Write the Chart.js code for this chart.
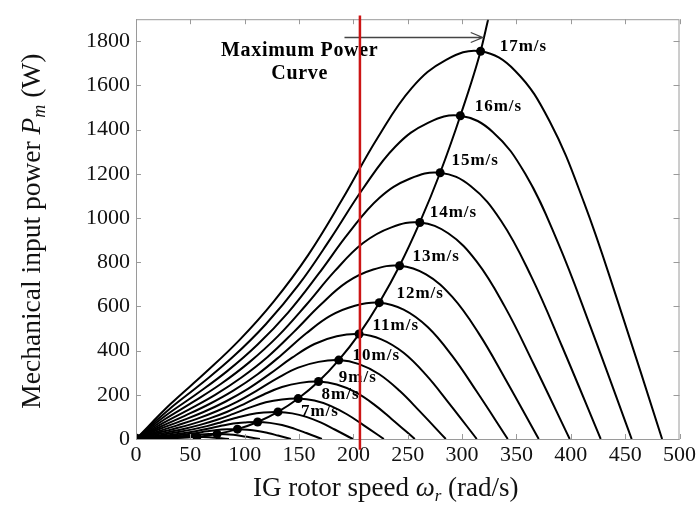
<!DOCTYPE html>
<html>
<head>
<meta charset="utf-8">
<script src="https://cdn.jsdelivr.net/npm/chart.js@4"></script>
<style>
  html, body { margin: 0; padding: 0; background: #fff; }
  #wrap { width: 699px; height: 507px; position: relative; }
</style>
</head>
<body>
<div id="wrap"><canvas id="powerChart"></canvas></div>
<script>
// rotor speed (rad/s) and mechanical power (W)
const omega3 = [0, 5.6, 11.2, 16.8, 22.4, 28, 33.6, 39.2, 44.8, 50.4, 56, 61.6, 67.2, 72.8, 78.4, 85.5]
const power3 = [0, 0.9, 1.6, 2.4, 3.4, 4.6, 6, 7.4, 8.7, 9.4, 9.6, 9.1, 7.9, 5.9, 3.4, 0]
const omega4 = [0, 7.5, 14.9, 22.4, 29.8, 37.3, 44.8, 52.2, 59.7, 67.1, 74.6, 82.1, 89.5, 97, 104.4, 114]
const power4 = [0, 2.1, 3.9, 5.8, 8.1, 10.8, 14.1, 17.7, 20.6, 22.3, 22.8, 21.7, 18.7, 13.9, 8, 0]
const omega5 = [0, 9.3, 18.7, 28, 37.3, 46.7, 56, 65.3, 74.6, 84, 93.3, 102.6, 112, 121.3, 130.6, 142.5]
const power5 = [0, 4, 7.6, 11.4, 15.8, 21.2, 27.7, 34.6, 40.4, 43.6, 44.6, 42.4, 36.6, 27.2, 15.6, 0]
const omega6 = [0, 11.2, 22.4, 33.6, 44.8, 56, 67.1, 78.3, 89.5, 100.7, 111.9, 123.1, 134.3, 145.5, 156.7, 171]
const power6 = [0, 6.9, 13.1, 19.6, 27.3, 36.6, 47.7, 59.7, 70, 75, 77, 73, 63, 47, 27, 0]
const omega7 = [0, 13.1, 26.1, 39.2, 52.2, 65.3, 78.4, 91.4, 104.5, 117.5, 130.6, 143.7, 156.7, 169.8, 182.8, 199.5]
const power7 = [0, 11, 20.8, 31.2, 43.5, 58.2, 76, 94.9, 111, 120, 122.5, 116, 100, 75, 43, 0]
const omega8 = [0, 14.9, 29.8, 44.8, 59.7, 74.6, 89.5, 104.4, 119.4, 134.3, 149.2, 164.1, 179, 194, 208.9, 228]
const power8 = [0, 16.5, 31.1, 46.7, 65, 86.9, 113.5, 141.8, 166, 179, 183, 174, 150, 112, 64, 0]
const omega9 = [0, 16.8, 33.6, 50.4, 67.2, 84, 100.7, 117.5, 134.3, 151.1, 167.9, 184.7, 201.5, 218.3, 235.1, 256.5]
const power9 = [0, 23.4, 44.2, 66.3, 92.3, 123.5, 161.2, 201.5, 235, 254, 260, 247, 213, 159, 91, 0]
const omega10 = [0, 18.7, 37.3, 56, 74.6, 93.3, 111.9, 130.6, 149.2, 167.9, 186.5, 205.2, 223.8, 242.5, 261.1, 285]
const power10 = [0, 32.1, 60.7, 91, 126.7, 169.6, 221.3, 276.7, 323, 349, 357, 339, 293, 218, 125, 0]
const omega11 = [0, 20.5, 41, 61.6, 82.1, 102.6, 123.1, 143.6, 164.2, 184.7, 205.2, 225.7, 246.2, 266.8, 287.3, 313.5]
const power11 = [0, 42.8, 80.8, 121.1, 168.6, 225.6, 294.5, 368.1, 430, 465, 475, 451, 390, 290, 166, 0]
const omega12 = [0, 22.4, 44.8, 67.1, 89.5, 111.9, 134.3, 156.7, 179, 201.4, 223.8, 246.2, 268.6, 290.9, 313.3, 342]
const power12 = [0, 55.5, 104.9, 157.3, 219, 293.1, 382.5, 478.2, 558, 603, 617, 586, 506, 376, 216, 0]
const omega13 = [0, 24.3, 48.5, 72.8, 97, 121.3, 145.5, 169.8, 194, 218.3, 242.5, 266.8, 291, 315.3, 339.5, 370.5]
const power13 = [0, 70.6, 133.3, 199.9, 278.3, 372.4, 486.1, 607.6, 710, 767, 784, 745, 643, 478, 274, 0]
const omega14 = [0, 26.1, 52.2, 78.3, 104.4, 130.6, 156.7, 182.8, 208.9, 235, 261.1, 287.2, 313.3, 339.4, 365.5, 399]
const power14 = [0, 88.2, 166.6, 249.9, 347.9, 465.5, 607.6, 759.5, 887, 958, 980, 931, 804, 598, 343, 0]
const omega15 = [0, 28, 56, 83.9, 111.9, 139.9, 167.9, 195.9, 223.8, 251.8, 279.8, 307.8, 335.8, 363.7, 391.7, 427.5]
const power15 = [0, 108.5, 204.9, 307.3, 427.8, 572.4, 747.1, 933.9, 1091, 1178, 1205, 1145, 988, 735, 422, 0]
const omega16 = [0, 29.8, 59.7, 89.5, 119.4, 149.2, 179, 208.9, 238.7, 268.6, 298.4, 328.2, 358.1, 387.9, 417.8, 456]
const power16 = [0, 131.7, 248.7, 373, 519.4, 694.9, 907, 1133.8, 1324, 1431, 1463, 1390, 1200, 892, 512, 0]
const omega17 = [0, 31.7, 63.4, 95.1, 126.8, 158.5, 190.2, 221.9, 253.6, 285.3, 317, 348.7, 380.4, 412.1, 443.8, 484]
const power17 = [0, 158, 298.4, 447.5, 623, 833.6, 1088, 1360, 1588, 1716, 1755, 1667, 1439, 1071, 614, 0]

// maximum power points (one per wind speed), last entry is where the curve leaves the plot
const mppOmega = [0, 56, 74.6, 93.3, 111.9, 130.6, 149.2, 167.9, 186.5, 205.2, 223.8, 242.5, 261.1, 279.8, 298.4, 317, 324]
const mppPower = [0, 9.6, 22.8, 44.6, 77, 122.5, 183, 260, 357, 475, 617, 784, 980, 1205, 1463, 1755, 1900]

// wind speed labels
const labelText = ['7m/s', '8m/s', '9m/s', '10m/s', '11m/s', '12m/s', '13m/s', '14m/s', '15m/s', '16m/s', '17m/s']
const labelOmega = [151.7, 170.7, 186.6, 199.2, 217.6, 239.6, 254.3, 270.2, 290.2, 311.6, 334.6]
const labelPower = [125, 201.5, 278, 376, 515, 658, 824, 1025.5, 1258, 1505, 1778]

// vertical marker and the annotation arrow
const markerOmega = 206
const markerSpan = [-49, 1917]
const arrowOmega = [191.8, 319]
const arrowPower = 1818
const noteOmega = 150.6
const notePower = [1758, 1655]

const curves = [
  [omega3, power3], [omega4, power4], [omega5, power5], [omega6, power6], [omega7, power7],
  [omega8, power8], [omega9, power9], [omega10, power10], [omega11, power11], [omega12, power12],
  [omega13, power13], [omega14, power14], [omega15, power15], [omega16, power16], [omega17, power17]
]

const toPoints = (xs, ys) => xs.map((x, i) => ({ x: x, y: ys[i] }))

const datasets = curves.map(([w, p]) => ({
  data: toPoints(w, p),
  borderColor: '#000',
  borderWidth: 2,
  pointRadius: 0,
  tension: 0.4
}))

datasets.push({
  data: toPoints(mppOmega, mppPower),
  borderColor: '#000',
  backgroundColor: '#000',
  borderWidth: 2,
  pointRadius: c => (c.dataIndex === mppOmega.length - 1 ? 0 : c.dataIndex === 0 ? 5.5 : 4.5),
  pointBorderWidth: 0,
  cubicInterpolationMode: 'monotone'
})

const serif = '"Liberation Serif", "Times New Roman", serif'

function drawRuns(ctx, runs, x, y) {
  // runs: [text, font, dy]
  let total = 0
  runs.forEach(r => { ctx.font = r[1]; total += ctx.measureText(r[0]).width })
  let cx = x - total / 2
  runs.forEach(r => {
    ctx.font = r[1]
    ctx.fillText(r[0], cx, y + (r[2] || 0))
    cx += ctx.measureText(r[0]).width
  })
}

const decor = {
  id: 'decor',
  afterDraw(chart) {
    const ctx = chart.ctx
    const xs = chart.scales.x
    const ys = chart.scales.y
    const a = chart.chartArea
    ctx.save()

    // frame and inward ticks
    ctx.strokeStyle = '#9a9a9a'
    ctx.lineWidth = 1
    ctx.strokeRect(a.left + 0.5, a.top + 0.5, a.right - a.left - 1, a.bottom - a.top)
    ctx.beginPath()
    xs.ticks.forEach(t => {
      const px = Math.round(xs.getPixelForValue(t.value)) + 0.5
      ctx.moveTo(px, a.bottom); ctx.lineTo(px, a.bottom - 5)
      ctx.moveTo(px, a.top); ctx.lineTo(px, a.top + 5)
    })
    ys.ticks.forEach(t => {
      const py = Math.round(ys.getPixelForValue(t.value)) + 0.5
      ctx.moveTo(a.left, py); ctx.lineTo(a.left + 5, py)
      ctx.moveTo(a.right, py); ctx.lineTo(a.right - 6, py)
    })
    ctx.stroke()

    // wind speed labels
    ctx.fillStyle = '#000'
    ctx.textBaseline = 'middle'
    ctx.textAlign = 'left'
    ctx.font = 'bold 17px ' + serif
    ctx.letterSpacing = '1px'
    labelText.forEach((t, i) => {
      ctx.fillText(t, xs.getPixelForValue(labelOmega[i]), ys.getPixelForValue(labelPower[i]))
    })

    // note text
    ctx.textAlign = 'center'
    ctx.font = 'bold 20px ' + serif
    ctx.letterSpacing = '0.7px'
    ctx.fillText('Maximum Power', xs.getPixelForValue(noteOmega), ys.getPixelForValue(notePower[0]))
    ctx.fillText('Curve', xs.getPixelForValue(noteOmega), ys.getPixelForValue(notePower[1]))
    ctx.letterSpacing = '0px'

    // arrow
    const ax0 = xs.getPixelForValue(arrowOmega[0])
    const ax1 = xs.getPixelForValue(arrowOmega[1])
    const ay = Math.round(ys.getPixelForValue(arrowPower)) + 0.5
    ctx.strokeStyle = '#444'
    ctx.lineWidth = 1.3
    ctx.beginPath()
    ctx.moveTo(ax0, ay); ctx.lineTo(ax1, ay)
    ctx.moveTo(ax1 - 12, ay - 5); ctx.lineTo(ax1, ay); ctx.lineTo(ax1 - 12, ay + 5)
    ctx.stroke()

    // red marker
    const mx = xs.getPixelForValue(markerOmega)
    ctx.strokeStyle = '#cc1515'
    ctx.lineWidth = 2.5
    ctx.beginPath()
    ctx.moveTo(mx, ys.getPixelForValue(markerSpan[0]))
    ctx.lineTo(mx, ys.getPixelForValue(markerSpan[1]))
    ctx.stroke()

    // axis titles
    ctx.fillStyle = '#111'
    ctx.textAlign = 'left'
    ctx.textBaseline = 'alphabetic'
    drawRuns(ctx, [
      ['IG rotor speed ', '27px ' + serif],
      ['\u03c9', 'italic 27px ' + serif],
      ['r', 'italic 17px ' + serif, 5],
      [' (rad/s)', '27px ' + serif]
    ], (a.left + a.right) / 2 - 22, 496)

    ctx.translate(31, (a.top + a.bottom) / 2 + 2)
    ctx.rotate(-Math.PI / 2)
    drawRuns(ctx, [
      ['Mechanical input power ', '27.5px ' + serif],
      ['P', 'italic 27.5px ' + serif],
      ['m', 'italic 18px ' + serif, 5],
      [' (W)', '27.5px ' + serif]
    ], 0, 9)
    ctx.restore()
  }
}

new Chart(document.getElementById('powerChart'), {
  type: 'line',
  data: { datasets: datasets },
  options: {
    responsive: true,
    maintainAspectRatio: false,
    animation: false,
    layout: { padding: { left: 0, right: 19, top: 15, bottom: 0 } },
    plugins: { legend: { display: false }, tooltip: { enabled: false } },
    scales: {
      x: {
        type: 'linear',
        min: 0,
        max: 500,
        grid: { display: false, drawTicks: false },
        border: { display: false },
        ticks: { stepSize: 50, autoSkip: false, maxRotation: 0, padding: 3, color: '#111', font: { family: serif, size: 22 } },
        afterFit: s => { s.height = 68 }
      },
      y: {
        type: 'linear',
        min: 0,
        max: 1900,
        grid: { display: false, drawTicks: false },
        border: { display: false },
        ticks: {
          stepSize: 200,
          includeBounds: false,
          padding: 6,
          color: '#111',
          font: { family: serif, size: 22 },
          callback: v => String(v)
        },
        afterFit: s => { s.width = 136 }
      }
    }
  },
  plugins: [decor]
})
</script>
</body>
</html>
